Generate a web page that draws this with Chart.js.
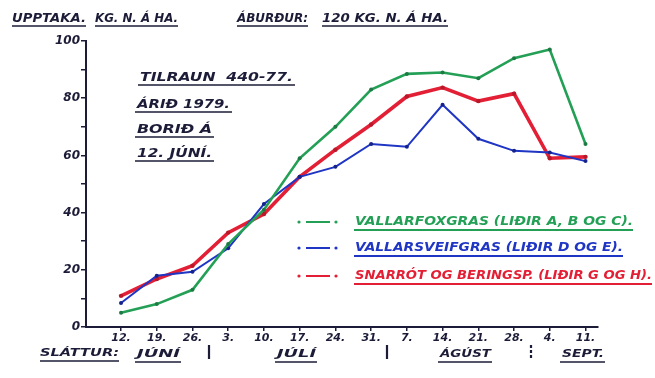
<!DOCTYPE html>
<html>
<head>
<meta charset="utf-8">
<script src="https://cdn.jsdelivr.net/npm/chart.js@4"></script>
<style>
  body { margin: 0; background: #fff; }
  #wrap { width: 655px; height: 378px; }
</style>
</head>
<body>
<div id="wrap"><canvas id="chart"></canvas></div>
<script>
// slattur dates (week ticks)
const weeks = ["12.", "19.", "26.", "3.", "10.", "17.", "24.", "31.", "7.", "14.", "21.", "28.", "4.", "11."];
// upptaka kg N a ha
const vallarfoxgras   = [5, 8, 13, 29, 41, 59, 70, 83, 88.5, 89, 87, 94, 97, 64];
const vallarsveifgras = [8.4, 17.9, 19.3, 27.5, 43, 52.5, 56, 64, 63, 77.7, 65.8, 61.6, 61, 58];
const snarrot         = [10.9, 16.8, 21.4, 33, 39.5, 52.5, 62, 70.8, 80.6, 83.7, 79, 81.6, 59, 59.5];

const seriesNames = [
  "VALLARFOXGRAS (LIÐIR A, B OG C).",
  "VALLARSVEIFGRAS (LIÐIR D OG E).",
  "SNARRÓT OG BERINGSP. (LIÐIR G OG H)."
];
const INK = "#1c1c38";
const FONT = '"DejaVu Sans"';

function toPoints(arr) {
  return arr.map((v, i) => ({ x: i, y: v }));
}

// text squeezed/stretched to a given width, like the hand lettering
function handText(ctx, text, x1, x2, y, color, size) {
  ctx.save();
  ctx.font = "italic bold " + size + "px " + FONT;
  const w = ctx.measureText(text).width;
  ctx.translate(x1, y);
  ctx.scale((x2 - x1) / w, 1);
  ctx.fillStyle = color;
  ctx.textBaseline = "middle";
  ctx.fillText(text, 0, 0);
  ctx.restore();
}
function underline(ctx, x1, x2, y, color, lw) {
  ctx.save();
  ctx.strokeStyle = color;
  ctx.lineWidth = lw || 1.6;
  ctx.beginPath();
  ctx.moveTo(x1, y);
  ctx.lineTo(x2, y);
  ctx.stroke();
  ctx.restore();
}

const notes = {
  id: "notes",
  afterDraw(chart) {
    const ctx = chart.ctx;
    // header
    handText(ctx, "UPPTAKA.", 12, 86, 19, INK, 12);
    handText(ctx, "KG. N. Á HA.", 95, 178, 19, INK, 12);
    underline(ctx, 12, 86, 26, INK);
    underline(ctx, 95, 178, 26, INK);
    handText(ctx, "ÁBURÐUR:", 237, 308, 19, INK, 12);
    handText(ctx, "120 KG. N. Á HA.", 322, 448, 19, INK, 12);
    underline(ctx, 237, 308, 26, INK);
    underline(ctx, 322, 448, 26, INK);

    // experiment notes
    const block = [
      ["TILRAUN  440-77.", 140, 293, 78],
      ["ÁRIÐ 1979.", 137, 230, 105],
      ["BORIÐ Á", 137, 212, 130],
      ["12. JÚNÍ.", 137, 212, 154]
    ];
    block.forEach(b => {
      handText(ctx, b[0], b[1], b[2], b[3], INK, 12);
      underline(ctx, b[1] - 2, b[2] + 2, b[3] + 7, INK);
    });

    // legend
    const rows = [222, 248, 276];
    const ends = [633, 623, 652];
    chart.data.datasets.forEach((ds, i) => {
      const y = rows[i];
      ctx.save();
      ctx.strokeStyle = ds.borderColor;
      ctx.fillStyle = ds.borderColor;
      ctx.lineWidth = 2;
      ctx.beginPath();
      ctx.moveTo(306, y);
      ctx.lineTo(330, y);
      ctx.stroke();
      ctx.beginPath(); ctx.arc(299, y, 1.6, 0, Math.PI * 2); ctx.fill();
      ctx.beginPath(); ctx.arc(336, y, 1.6, 0, Math.PI * 2); ctx.fill();
      ctx.restore();
      handText(ctx, ds.label, 355, ends[i], y, ds.borderColor, 12);
      underline(ctx, 354, ends[i], y + 8, ds.borderColor, 1.8);
    });

    // month line under the axis
    handText(ctx, "SLÁTTUR:", 40, 119, 353, INK, 11);
    underline(ctx, 40, 119, 361, INK);
    const months = [["JÚNÍ", 137, 180], ["JÚLÍ", 277, 316], ["ÁGÚST", 440, 491], ["SEPT.", 562, 604]];
    months.forEach(m => {
      handText(ctx, m[0], m[1], m[2], 354, INK, 10.5);
      underline(ctx, m[1] - 2, m[2] + 1, 362, INK);
    });
    [209, 387, 531].forEach((x, i) => {
      ctx.save();
      ctx.strokeStyle = INK;
      ctx.lineWidth = 2.2;
      if (i === 2) ctx.setLineDash([3, 2]);
      ctx.beginPath();
      ctx.moveTo(x, 345);
      ctx.lineTo(x, 359);
      ctx.stroke();
      ctx.restore();
    });
  }
};

const ctx = document.getElementById("chart").getContext("2d");

const chart = new Chart(ctx, {
  type: "line",
  data: {
    datasets: [
      {
        label: seriesNames[0],
        data: toPoints(vallarfoxgras),
        borderColor: "#23a055",
        backgroundColor: "#1d7a44",
        borderWidth: 2.6,
        pointRadius: 2,
        pointBorderWidth: 0,
        tension: 0
      },
      {
        label: seriesNames[1],
        data: toPoints(vallarsveifgras),
        borderColor: "#1f35c4",
        backgroundColor: "#14228a",
        borderWidth: 2,
        pointRadius: 2,
        pointBorderWidth: 0,
        tension: 0
      },
      {
        label: seriesNames[2],
        data: toPoints(snarrot),
        borderColor: "#e31f35",
        backgroundColor: "#b8182a",
        borderWidth: 3.6,
        pointRadius: 2.2,
        pointBorderWidth: 0,
        tension: 0
      }
    ]
  },
  options: {
    responsive: true,
    maintainAspectRatio: false,
    animation: false,
    layout: { padding: { top: 41, right: 57, left: 0, bottom: 0 } },
    plugins: {
      legend: { display: false },
      tooltip: { enabled: false },
      title: { display: false }
    },
    scales: {
      x: {
        type: "linear",
        min: -0.98,
        max: 13.35,
        afterBuildTicks: scale => { scale.ticks = weeks.map((_, i) => ({ value: i })); },
        afterFit: scale => { scale.height = 51; },
        border: { display: true, color: INK, width: 2 },
        grid: { drawOnChartArea: false, color: INK, lineWidth: 1.5, tickLength: 4 },
        ticks: {
          autoSkip: false,
          maxRotation: 0,
          padding: 1,
          color: INK,
          font: { family: FONT, size: 11, weight: "bold", style: "italic" },
          callback: v => weeks[v] ?? ""
        }
      },
      y: {
        min: 0,
        max: 100,
        afterFit: scale => { scale.width = 86; },
        border: { display: true, color: INK, width: 2 },
        grid: { drawOnChartArea: false, color: INK, lineWidth: 1.5, tickLength: 5 },
        ticks: {
          stepSize: 10,
          padding: 1,
          color: INK,
          font: { family: FONT, size: 12, weight: "bold", style: "italic" },
          callback: v => (v % 20 === 0 ? v : "")
        }
      }
    }
  },
  plugins: [notes]
});
</script>
</body>
</html>
